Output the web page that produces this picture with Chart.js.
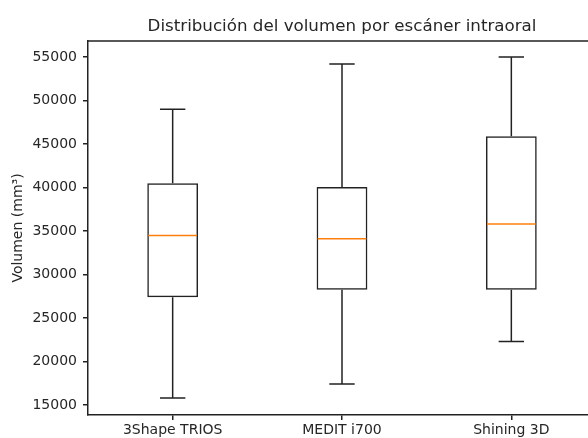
<!DOCTYPE html>
<html>
<head>
<meta charset="utf-8">
<script src="https://cdn.jsdelivr.net/npm/chart.js@4/dist/chart.umd.min.js"></script>
<style>
  html, body { margin: 0; padding: 0; background: #fff; overflow: hidden; width: 588px; height: 438px; }
  canvas { display: block; }
</style>
</head>
<body>
<canvas id="box" width="596" height="438" style="width:596px;height:438px"></canvas>
<script>
// Box plot values
const scanners = ['3Shape TRIOS', 'MEDIT i700', 'Shining 3D'];
const whiskerLow = [15800, 17400, 22300];
const quartile1 = [27400, 28250, 28250];
const medians = [34500, 34100, 35800];
const quartile3 = [40500, 40050, 45900];
const whiskerHigh = [49000, 54200, 55000];
const yTicks = [15000, 20000, 25000, 30000, 35000, 40000, 45000, 50000, 55000];
const chartTitle = 'Distribución del volumen por escáner intraoral';

const FONT = 'DejaVu Sans';
const TEXT = '#262626';
const LINE = '#222';

// Whiskers, caps, medians, the top/right frame and the title centred on the axes
const boxExtras = {
    id: 'boxExtras',
    afterDatasetsDraw(chart) {
        const { ctx, chartArea, scales } = chart;
        const x = scales.x, y = scales.y;
        const bars = chart.getDatasetMeta(0).data;
        ctx.save();
        ctx.lineWidth = 1.5;
        scanners.forEach((_, i) => {
            const cx = x.getPixelForValue(i);
            const half = bars[i].width / 2;
            const cap = half / 2;
            const yLo = y.getPixelForValue(whiskerLow[i]);
            const yQ1 = y.getPixelForValue(quartile1[i]);
            const yQ3 = y.getPixelForValue(quartile3[i]);
            const yHi = y.getPixelForValue(whiskerHigh[i]);
            const yMed = y.getPixelForValue(medians[i]);

            ctx.strokeStyle = LINE;
            ctx.beginPath();
            ctx.moveTo(cx, yQ1); ctx.lineTo(cx, yLo);
            ctx.moveTo(cx, yQ3); ctx.lineTo(cx, yHi);
            ctx.moveTo(cx - cap, yLo); ctx.lineTo(cx + cap, yLo);
            ctx.moveTo(cx - cap, yHi); ctx.lineTo(cx + cap, yHi);
            ctx.stroke();

            ctx.strokeStyle = '#ff7f0e';
            ctx.beginPath();
            ctx.moveTo(cx - half + 1, yMed); ctx.lineTo(cx + half - 1, yMed);
            ctx.stroke();
        });
        ctx.strokeStyle = LINE;
        ctx.lineWidth = 1.5;
        ctx.beginPath();
        ctx.moveTo(chartArea.left, chartArea.top);
        ctx.lineTo(chartArea.right, chartArea.top);
        ctx.lineTo(chartArea.right, chartArea.bottom);
        ctx.stroke();

        ctx.fillStyle = TEXT;
        ctx.font = '16.7px "' + FONT + '"';
        ctx.textAlign = 'center';
        ctx.textBaseline = 'alphabetic';
        ctx.fillText(chartTitle, (chartArea.left + chartArea.right) / 2, 31);
        ctx.restore();
    }
};

new Chart(document.getElementById('box'), {
    type: 'bar',
    data: {
        labels: scanners,
        datasets: [{
            data: scanners.map((_, i) => [quartile1[i], quartile3[i]]),
            backgroundColor: 'rgba(0,0,0,0)',
            borderColor: LINE,
            borderWidth: 1.5,
            borderSkipped: false,
            categoryPercentage: 1,
            barPercentage: 0.3
        }]
    },
    options: {
        responsive: false,
        animation: false,
        devicePixelRatio: 1,
        layout: { padding: { left: 0, right: 0, top: 41, bottom: 0 } },
        plugins: {
            legend: { display: false },
            tooltip: { enabled: false },
            title: { display: false }
        },
        scales: {
            x: {
                offset: true,
                grid: { drawOnChartArea: false, offset: false, color: LINE, lineWidth: 1.5, tickLength: 5 },
                border: { color: LINE, width: 1.5 },
                ticks: {
                    color: TEXT,
                    padding: 2,
                    font: { family: FONT, size: 14 }
                },
                afterFit: (scale) => { scale.height = 23; }
            },
            y: {
                min: 13850,
                max: 56850,
                grid: { drawOnChartArea: false, color: LINE, lineWidth: 1.5, tickLength: 5 },
                border: { color: LINE, width: 1.5 },
                ticks: {
                    color: TEXT,
                    padding: 6,
                    font: { family: FONT, size: 14 },
                    callback: (value) => String(value)
                },
                afterBuildTicks: (scale) => {
                    scale.ticks = yTicks.map(v => ({ value: v }));
                },
                title: {
                    display: true,
                    text: 'Volumen (mm³)',
                    color: TEXT,
                    font: { family: FONT, size: 14 },
                    padding: { top: 10, bottom: 0 }
                },
                afterFit: (scale) => { scale.width = 88; }
            }
        }
    },
    plugins: [boxExtras]
});
</script>
</body>
</html>
